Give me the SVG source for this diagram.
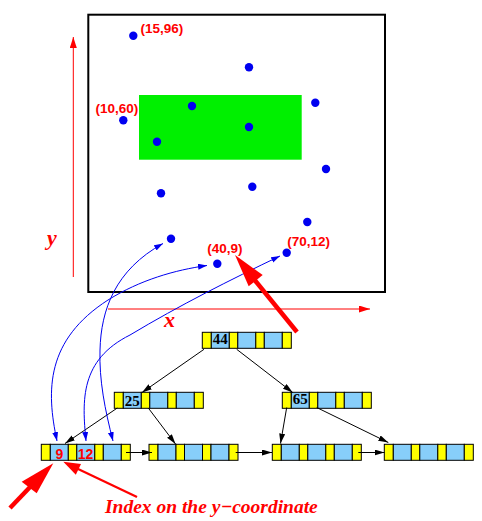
<svg xmlns="http://www.w3.org/2000/svg" xmlns:xlink="http://www.w3.org/1999/xlink" width="482" height="521" viewBox="0 0 482 521">
<style>
.dot{fill:#0000f0}
.lbl{font-family:"Liberation Sans",Arial,sans-serif;font-weight:bold;font-size:13.5px;fill:#ff0000}
.key{font-family:"Liberation Serif","Times New Roman",serif;font-weight:bold;font-size:15px;fill:#000}
.rkey{font-family:"Liberation Sans",Arial,sans-serif;font-weight:bold;font-size:14px;fill:#ff0000;text-anchor:middle}
.ax{font-family:"Liberation Serif","Times New Roman",serif;font-weight:bold;font-style:italic;fill:#ff0000}
.yc{fill:#ffff00;stroke:#000;stroke-width:1}
.bc{fill:#87cefa;stroke:#000;stroke-width:1}
.blue{fill:none;stroke:#0000f0;stroke-width:1;marker-start:url(#ba);marker-end:url(#ba)}
.blk{fill:none;stroke:#000;stroke-width:1;marker-end:url(#ka)}
</style>
<defs>
<marker id="ba" markerUnits="userSpaceOnUse" markerWidth="10" markerHeight="7" refX="9" refY="3" orient="auto-start-reverse"><path d="M0,0 L9,3 L0,6 z" fill="#0000f0"/></marker>
<marker id="ka" markerUnits="userSpaceOnUse" markerWidth="11" markerHeight="7" refX="10" refY="3" orient="auto"><path d="M0,0 L10,3 L0,6 z" fill="#000"/></marker>
<marker id="ra" markerUnits="userSpaceOnUse" markerWidth="12" markerHeight="8" refX="11" refY="3.5" orient="auto"><path d="M0,0 L11,3.5 L0,7 z" fill="#ff0000"/></marker>
<g id="node">
<rect class="yc" x="0" y="0" width="9" height="16"/>
<rect class="bc" x="9" y="0" width="18" height="16"/>
<rect class="yc" x="27" y="0" width="8.5" height="16"/>
<rect class="bc" x="35.5" y="0" width="18" height="16"/>
<rect class="yc" x="53.5" y="0" width="8.5" height="16"/>
<rect class="bc" x="62" y="0" width="18" height="16"/>
<rect class="yc" x="80" y="0" width="9" height="16"/>
</g>
</defs>
<rect width="482" height="521" fill="#fff"/>
<g id="space">
<rect x="88.3" y="14.7" width="296.7" height="277.3" fill="none" stroke="#000" stroke-width="2"/>
<rect x="139" y="95" width="162.7" height="64.7" fill="#00f000"/>
<line x1="73.3" y1="277" x2="73.3" y2="37" stroke="#ff0000" stroke-width="1" marker-end="url(#ra)"/>
<line x1="108" y1="309" x2="370" y2="309" stroke="#ff0000" stroke-width="1" marker-end="url(#ra)"/>
<text class="ax" x="47" y="245" font-size="22">y</text>
<text class="ax" x="164" y="327" font-size="22">x</text>
</g>
<g id="points">
<circle class="dot" cx="133.3" cy="35.7" r="4.2"/>
<circle class="dot" cx="249" cy="67.3" r="4.2"/>
<circle class="dot" cx="315.3" cy="102.7" r="4.2"/>
<circle class="dot" cx="192" cy="106" r="4.2"/>
<circle class="dot" cx="123.3" cy="120.3" r="4.2"/>
<circle class="dot" cx="249" cy="127" r="4.2"/>
<circle class="dot" cx="157" cy="141.7" r="4.2"/>
<circle class="dot" cx="326" cy="169" r="4.2"/>
<circle class="dot" cx="161" cy="193.3" r="4.2"/>
<circle class="dot" cx="252.3" cy="186.7" r="4.2"/>
<circle class="dot" cx="307.3" cy="222" r="4.2"/>
<circle class="dot" cx="171" cy="238.7" r="4.2"/>
<circle class="dot" cx="217.3" cy="263.7" r="4.2"/>
<circle class="dot" cx="286.7" cy="252.7" r="4.2"/>
<text class="lbl" x="140.5" y="33">(15,96)</text>
<text class="lbl" x="95.5" y="113">(10,60)</text>
<text class="lbl" x="207.3" y="253">(40,9)</text>
<text class="lbl" x="287.3" y="246">(70,12)</text>
</g>
<g id="root"><use xlink:href="#node" x="202.3" y="332.3"/><text class="key" x="220.3" y="344" text-anchor="middle">44</text></g>
<g id="n25"><use xlink:href="#node" x="114.3" y="392.3"/><text class="key" x="132.3" y="406.3" text-anchor="middle">25</text></g>
<g id="n65"><use xlink:href="#node" x="282.3" y="392.3"/><text class="key" x="300.3" y="403.5" text-anchor="middle">65</text></g>
<g id="leaf1"><use xlink:href="#node" x="41.3" y="444.3"/><text class="rkey" x="59.3" y="459">9</text><text class="rkey" x="85.5" y="459">12</text></g>
<g id="leaf2"><use xlink:href="#node" x="149" y="444.3"/></g>
<g id="leaf3"><use xlink:href="#node" x="272.3" y="444.3"/></g>
<g id="leaf4"><use xlink:href="#node" x="384.3" y="444.3"/></g>
<g id="connectors">
<path class="blk" d="M204,349.3 L142,392.5"/>
<path class="blk" d="M236.7,349.3 L292.7,392.5"/>
<path class="blk" d="M117.3,408 L65,443.5"/>
<path class="blk" d="M148.3,408 L175.5,444"/>
<path class="blk" d="M286.7,407.5 L280.5,443.5"/>
<path class="blk" d="M316.7,407.5 L388.3,442.5"/>
<path class="blk" d="M126,452.5 L152,452.5"/>
<path class="blk" d="M235.7,452.5 L272,452.5"/>
<path class="blk" d="M358.3,452.5 L384.5,452.5"/>
<path class="blue" d="M57,441 C46,390 46,340 108,300 C140,280 175,270 207,265.5"/>
<path class="blue" d="M86,441 C82,400 80,360 130,335 C180,305 230,280 280,256"/>
<path class="blue" d="M113,441 C105,410 99,380 100,350 C101,310 115,270 163,243.5"/>
</g>
<g id="pointers">
<line x1="297" y1="332" x2="253" y2="278" stroke="#ff0000" stroke-width="4.5"/>
<polygon points="235,255 262.7,275.1 248.7,286.3" fill="#ff0000"/>
<line x1="10" y1="508" x2="32" y2="485" stroke="#ff0000" stroke-width="4.5"/>
<polygon points="53.3,463.3 21.7,481.7 36.7,493.3" fill="#ff0000"/>
<line x1="137" y1="497" x2="76" y2="468" stroke="#ff0000" stroke-width="2.2"/>
<polygon points="63.3,461.7 81,463.9 75.8,474.7" fill="#ff0000"/>
<text class="ax" x="105" y="513" font-size="19.5">Index on the y−coordinate</text>
</g>
</svg>
